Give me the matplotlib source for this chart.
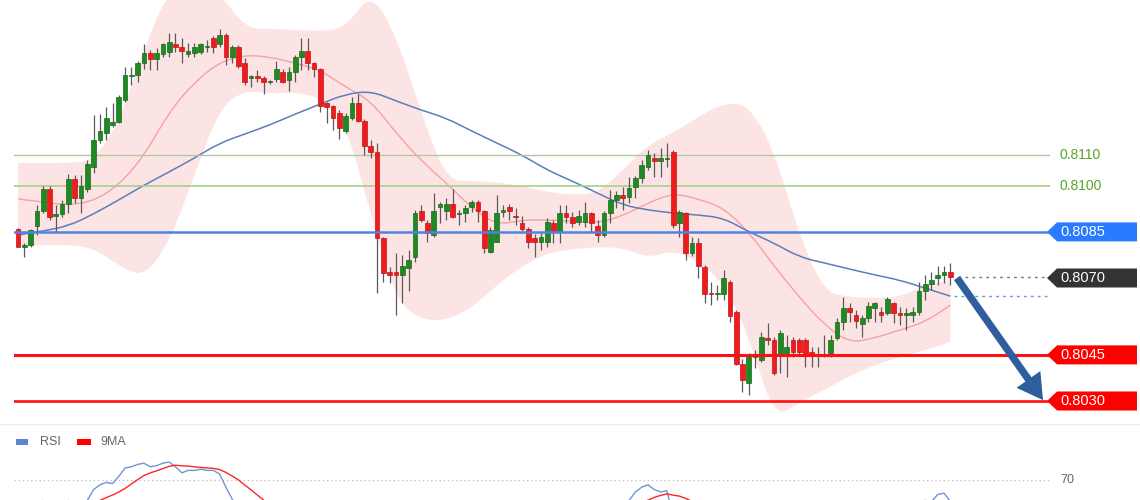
import matplotlib
matplotlib.use("Agg")
import matplotlib.pyplot as plt
import numpy as np
import pandas as pd
from matplotlib.patches import Polygon, FancyArrowPatch, Rectangle, PathPatch
from matplotlib.path import Path

plt.rcParams['font.family'] = ['Liberation Sans', 'DejaVu Sans']

# ---------------- data ----------------
opens = [0.80859, 0.80801, 0.80807, 0.80869, 0.80918, 0.80989, 0.80902, 0.80908, 0.80941, 0.81022,
         0.80960, 0.80989, 0.81061, 0.81149, 0.81172, 0.81198, 0.81207, 0.81279, 0.81357, 0.81360,
         0.81399, 0.81432, 0.81412, 0.81428, 0.81435, 0.81461, 0.81451, 0.81428, 0.81432, 0.81435,
         0.81451, 0.81480, 0.81461, 0.81490, 0.81419, 0.81451, 0.81399, 0.81350, 0.81357, 0.81350,
         0.81337, 0.81347, 0.81370, 0.81344, 0.81370, 0.81419, 0.81438, 0.81399, 0.81380, 0.81269,
         0.81259, 0.81237, 0.81178, 0.81220, 0.81269, 0.81211, 0.81129, 0.81110, 0.80830, 0.80720,
         0.80720, 0.80710, 0.80733, 0.80768, 0.80918, 0.80879, 0.80840, 0.80931, 0.80918, 0.80941,
         0.80908, 0.80911, 0.80931, 0.80947, 0.80918, 0.80785, 0.80817, 0.80915, 0.80931, 0.80902,
         0.80879, 0.80859, 0.80830, 0.80817, 0.80817, 0.80879, 0.80850, 0.80911, 0.80898, 0.80882,
         0.80882, 0.80911, 0.80869, 0.80840, 0.80911, 0.80954, 0.80970, 0.80963, 0.80996, 0.81025,
         0.81061, 0.81090, 0.81081, 0.81087, 0.81110, 0.80879, 0.80911, 0.80781, 0.80814, 0.80736,
         0.80651, 0.80648, 0.80648, 0.80687, 0.80589, 0.80420, 0.80359, 0.80443, 0.80433, 0.80505,
         0.80498, 0.80450, 0.80450, 0.80498, 0.80498, 0.80498, 0.80459, 0.80446, 0.80450, 0.80456,
         0.80505, 0.80557, 0.80602, 0.80580, 0.80550, 0.80570, 0.80602, 0.80589, 0.80586, 0.80619,
         0.80586, 0.80580, 0.80580, 0.80589, 0.80658, 0.80680, 0.80700, 0.80710, 0.80720]
highs = [0.80863, 0.80814, 0.80859, 0.80937, 0.80999, 0.80999, 0.80937, 0.80954, 0.81038, 0.81035,
         0.81035, 0.81084, 0.81230, 0.81233, 0.81256, 0.81269, 0.81295, 0.81386, 0.81386, 0.81406,
         0.81461, 0.81441, 0.81448, 0.81464, 0.81497, 0.81497, 0.81480, 0.81464, 0.81464, 0.81464,
         0.81474, 0.81487, 0.81510, 0.81497, 0.81458, 0.81458, 0.81415, 0.81360, 0.81376, 0.81357,
         0.81344, 0.81406, 0.81380, 0.81386, 0.81425, 0.81480, 0.81480, 0.81402, 0.81383, 0.81272,
         0.81263, 0.81246, 0.81237, 0.81289, 0.81298, 0.81217, 0.81149, 0.81139, 0.80833, 0.80736,
         0.80781, 0.80775, 0.80791, 0.80921, 0.80937, 0.80889, 0.80976, 0.80947, 0.80960, 0.80989,
         0.80921, 0.80937, 0.80954, 0.80954, 0.80921, 0.80866, 0.80970, 0.80937, 0.80941, 0.80928,
         0.80902, 0.80866, 0.80843, 0.80846, 0.80895, 0.80889, 0.80937, 0.80937, 0.80915, 0.80921,
         0.80947, 0.80915, 0.80889, 0.80918, 0.80986, 0.80983, 0.80996, 0.81028, 0.81032, 0.81084,
         0.81116, 0.81107, 0.81123, 0.81139, 0.81116, 0.80921, 0.80915, 0.80833, 0.80830, 0.80742,
         0.80687, 0.80677, 0.80726, 0.80693, 0.80596, 0.80437, 0.80456, 0.80466, 0.80524, 0.80554,
         0.80508, 0.80531, 0.80515, 0.80508, 0.80505, 0.80505, 0.80476, 0.80476, 0.80515, 0.80515,
         0.80570, 0.80638, 0.80619, 0.80596, 0.80580, 0.80622, 0.80622, 0.80606, 0.80638, 0.80622,
         0.80606, 0.80602, 0.80606, 0.80687, 0.80710, 0.80720, 0.80739, 0.80739, 0.80749]
lows = [0.80820, 0.80768, 0.80801, 0.80840, 0.80911, 0.80889, 0.80850, 0.80898, 0.80911, 0.80944,
        0.80911, 0.80980, 0.81041, 0.81139, 0.81149, 0.81191, 0.81204, 0.81272, 0.81328, 0.81337,
        0.81380, 0.81376, 0.81376, 0.81419, 0.81419, 0.81435, 0.81399, 0.81419, 0.81419, 0.81428,
        0.81435, 0.81432, 0.81451, 0.81393, 0.81399, 0.81383, 0.81328, 0.81321, 0.81337, 0.81298,
        0.81331, 0.81337, 0.81334, 0.81308, 0.81337, 0.81376, 0.81376, 0.81354, 0.81240, 0.81204,
        0.81181, 0.81152, 0.81172, 0.81214, 0.81207, 0.81100, 0.81090, 0.80651, 0.80687, 0.80684,
        0.80580, 0.80619, 0.80658, 0.80752, 0.80882, 0.80817, 0.80833, 0.80879, 0.80889, 0.80895,
        0.80872, 0.80882, 0.80915, 0.80882, 0.80781, 0.80781, 0.80817, 0.80898, 0.80889, 0.80872,
        0.80853, 0.80798, 0.80768, 0.80791, 0.80801, 0.80814, 0.80814, 0.80879, 0.80866, 0.80872,
        0.80866, 0.80846, 0.80817, 0.80833, 0.80879, 0.80928, 0.80921, 0.80944, 0.80960, 0.81009,
        0.81051, 0.81028, 0.81028, 0.81061, 0.80863, 0.80833, 0.80759, 0.80772, 0.80700, 0.80619,
        0.80612, 0.80628, 0.80628, 0.80557, 0.80417, 0.80329, 0.80320, 0.80407, 0.80427, 0.80482,
        0.80385, 0.80391, 0.80378, 0.80443, 0.80450, 0.80411, 0.80411, 0.80411, 0.80443, 0.80443,
        0.80498, 0.80531, 0.80557, 0.80537, 0.80508, 0.80557, 0.80557, 0.80557, 0.80580, 0.80554,
        0.80547, 0.80531, 0.80557, 0.80580, 0.80628, 0.80661, 0.80677, 0.80684, 0.80677]
closes = [0.80801, 0.80807, 0.80856, 0.80918, 0.80989, 0.80898, 0.80908, 0.80941, 0.81022, 0.80960,
          0.80999, 0.81071, 0.81149, 0.81178, 0.81220, 0.81207, 0.81289, 0.81360, 0.81360, 0.81399,
          0.81432, 0.81412, 0.81432, 0.81461, 0.81467, 0.81451, 0.81438, 0.81438, 0.81451, 0.81461,
          0.81454, 0.81451, 0.81490, 0.81419, 0.81451, 0.81389, 0.81337, 0.81357, 0.81350, 0.81337,
          0.81341, 0.81380, 0.81337, 0.81370, 0.81419, 0.81438, 0.81399, 0.81380, 0.81259, 0.81256,
          0.81220, 0.81188, 0.81227, 0.81269, 0.81211, 0.81129, 0.81110, 0.80830, 0.80716, 0.80710,
          0.80710, 0.80739, 0.80759, 0.80911, 0.80889, 0.80846, 0.80918, 0.80941, 0.80941, 0.80898,
          0.80911, 0.80928, 0.80947, 0.80918, 0.80798, 0.80856, 0.80911, 0.80921, 0.80918, 0.80898,
          0.80859, 0.80817, 0.80817, 0.80833, 0.80882, 0.80850, 0.80911, 0.80898, 0.80879, 0.80902,
          0.80911, 0.80879, 0.80840, 0.80911, 0.80954, 0.80970, 0.80960, 0.80993, 0.81025, 0.81067,
          0.81100, 0.81081, 0.81090, 0.81090, 0.80872, 0.80915, 0.80781, 0.80814, 0.80739, 0.80648,
          0.80648, 0.80651, 0.80700, 0.80576, 0.80420, 0.80368, 0.80443, 0.80450, 0.80508, 0.80498,
          0.80391, 0.80521, 0.80476, 0.80459, 0.80459, 0.80453, 0.80450, 0.80453, 0.80453, 0.80498,
          0.80557, 0.80602, 0.80589, 0.80560, 0.80570, 0.80609, 0.80619, 0.80580, 0.80632, 0.80586,
          0.80580, 0.80586, 0.80589, 0.80658, 0.80680, 0.80693, 0.80710, 0.80720, 0.80703]

# indicator lines, read every 4th candle
band_idx = list(range(0, 149, 4))
band_upper = [0.81074, 0.81074, 0.81074, 0.81081, 0.81204, 0.81448, 0.81637, 0.81637, 0.81630, 0.81513,
              0.81510, 0.81507, 0.81503, 0.81513, 0.81630, 0.81490, 0.81237, 0.81019, 0.81015, 0.81012,
              0.80999, 0.80980, 0.80970, 0.80976, 0.81051, 0.81133, 0.81172, 0.81224, 0.81269, 0.81263,
              0.81116, 0.80840, 0.80654, 0.80638, 0.80635, 0.80638, 0.80677, 0.80693]
band_lower = [0.80807, 0.80807, 0.80807, 0.80798, 0.80739, 0.80703, 0.80814, 0.81035, 0.81253, 0.81311,
              0.81298, 0.81305, 0.81285, 0.81207, 0.80905, 0.80628, 0.80563, 0.80563, 0.80602, 0.80677,
              0.80739, 0.80781, 0.80794, 0.80801, 0.80798, 0.80765, 0.80791, 0.80752, 0.80684, 0.80511,
              0.80245, 0.80294, 0.80336, 0.80381, 0.80417, 0.80443, 0.80466, 0.80492]
band_mid = [0.80957, 0.80947, 0.80937, 0.80950, 0.81002, 0.81097, 0.81240, 0.81337, 0.81402, 0.81425,
            0.81419, 0.81399, 0.81376, 0.81321, 0.81276, 0.81172, 0.81081, 0.81009, 0.80928, 0.80872,
            0.80889, 0.80889, 0.80885, 0.80879, 0.80902, 0.80944, 0.80976, 0.80957, 0.80928, 0.80850,
            0.80739, 0.80638, 0.80547, 0.80489, 0.80505, 0.80531, 0.80557, 0.80612]
ma_slow = [0.80840, 0.80853, 0.80869, 0.80908, 0.80954, 0.81002, 0.81045, 0.81090, 0.81139, 0.81168,
           0.81198, 0.81233, 0.81266, 0.81298, 0.81308, 0.81276, 0.81246, 0.81220, 0.81178, 0.81139,
           0.81100, 0.81051, 0.81015, 0.80976, 0.80937, 0.80921, 0.80911, 0.80905, 0.80895, 0.80850,
           0.80814, 0.80768, 0.80749, 0.80729, 0.80710, 0.80693, 0.80667, 0.80641]

rsi = [42, 41, 45, 49, 53, 47, 48, 50, 53, 48, 50, 53, 62, 66, 68, 67, 73, 80, 81, 83,
       84, 81, 82, 84, 85, 81, 76, 78, 78, 79, 78, 78, 75, 64, 54, 46, 40, 42, 40, 39,
       40, 44, 42, 44, 50, 52, 47, 44, 35, 34, 33, 30, 33, 38, 35, 30, 29, 20, 17, 17,
       17, 20, 22, 38, 36, 34, 41, 43, 44, 41, 42, 43, 45, 43, 36, 40, 45, 45, 44, 43,
       42, 39, 39, 40, 43, 41, 45, 44, 43, 44, 45, 43, 41, 46, 49, 50, 50, 53, 60, 64,
       66, 62, 60, 61, 40, 43, 36, 38, 34, 29, 29, 30, 35, 28, 21, 19, 28, 29, 35, 34,
       29, 36, 34, 33, 33, 32, 32, 33, 33, 37, 42, 46, 45, 43, 44, 47, 48, 46, 50, 47,
       46, 47, 47, 52, 53, 52, 58, 59, 52]

levels_green = [0.8110, 0.8100]
level_blue = 0.8085
levels_red = [0.8045, 0.8030]
arrow_start = (149.05, 0.80700)
arrow_end = (162.7, 0.80303)

# ---------------- figure ----------------
W, H = 1140, 500
fig = plt.figure(figsize=(W / 100, H / 100), dpi=100)
fig.patch.set_facecolor('white')


def fx(px):
    return px / W


def fy(py):
    return 1 - py / H


def smooth_verts(xs, ys):
    """Quadratic-Bezier path through midpoints (drawn by matplotlib's Path)."""
    pts = list(zip(xs, ys))
    verts = [pts[0], ((pts[0][0] + pts[1][0]) / 2, (pts[0][1] + pts[1][1]) / 2)]
    codes = [Path.MOVETO, Path.LINETO]
    for i in range(1, len(pts) - 1):
        mid = ((pts[i][0] + pts[i + 1][0]) / 2, (pts[i][1] + pts[i + 1][1]) / 2)
        verts += [pts[i], mid]
        codes += [Path.CURVE3, Path.CURVE3]
    verts.append(pts[-1])
    codes.append(Path.LINETO)
    return verts, codes


XMIN, XMAX = -0.635, 163.81
ax = fig.add_axes([fx(14), fy(424), fx(1050) - fx(14), fy(0) - fy(424)])
ax.set_xlim(XMIN, XMAX)
ax.set_ylim(0.802252, 0.816041)
ax.axis('off')

# bollinger band (smooth fill)
vu, cu = smooth_verts(band_idx, band_upper)
vl, cl = smooth_verts(band_idx[::-1], band_lower[::-1])
cl[0] = Path.LINETO
band_path = Path(vu + vl + [vu[0]], cu + cl + [Path.CLOSEPOLY])
ax.add_patch(PathPatch(band_path, facecolor='#fde4e4', edgecolor='none', zorder=1))

for vals, col, lw in [(band_mid, '#f4a2a2', 1.0), (ma_slow, '#5a7fba', 1.1)]:
    v, cd = smooth_verts(band_idx, vals)
    ax.add_patch(PathPatch(Path(v, cd), facecolor='none', edgecolor=col, lw=lw, zorder=2))

# level lines
ax.axhline(levels_green[0], color='#b2c9a0', lw=1.0, zorder=2.5)
ax.axhline(levels_green[1], color='#a6d08a', lw=1.2, zorder=2.5)
ax.axhline(level_blue, color='#4d84e2', lw=1.8, zorder=5)
ax.axhline(levels_red[0], color='#ff1010', lw=2.2, zorder=5)
ax.axhline(levels_red[1], color='#ff1010', lw=1.9, zorder=5)

# candles
o = np.array(opens); h = np.array(highs); l = np.array(lows); c = np.array(closes)
x = np.arange(len(o))
up = c >= o
face = np.where(up, '#1f8a24', '#ee1c1c')
edge = np.where(up, '#166a1a', '#c01414')
ax.vlines(x, l, h, color='#5a5a5a', lw=0.9, zorder=3)
bottom = np.minimum(o, c)
height = np.maximum(np.abs(c - o), 0.00004)
ax.bar(x, height, 0.74, bottom=bottom, color=face, edgecolor=edge, lw=0.5, zorder=4)

# dotted last-value lines
last = len(c) - 1
ax.hlines(c[-1], last + 1.2, 162.9, colors='#777777', lw=1, linestyles=(0, (2, 3)), zorder=3)
ax.hlines(ma_slow[-1], last + 0.6, 163.3, colors='#6d95db', lw=1, linestyles=(0, (2, 3)), zorder=3)

# arrow
arr = FancyArrowPatch(arrow_start, arrow_end,
                      arrowstyle='simple,head_length=1.3,head_width=1.5,tail_width=0.38',
                      mutation_scale=14, color='#2f5e9c', lw=0, shrinkA=0, shrinkB=0, zorder=6,
                      clip_on=False)
ax.add_patch(arr)

fig.canvas.draw()


def price_fig_y(p):
    disp = ax.transData.transform((0, p))
    return fig.transFigure.inverted().transform(disp)[1]


# green labels
for lv in levels_green:
    fig.text(fx(1060), price_fig_y(lv), f'{lv:.4f}', color='#5aa22c', fontsize=10,
             ha='left', va='center')


def tag(p, color):
    yc = price_fig_y(p)
    hh = 9.5 / H
    pts = [(fx(1047), yc), (fx(1057), yc + hh), (fx(1137), yc + hh),
           (fx(1137), yc - hh), (fx(1057), yc - hh)]
    fig.patches.append(Polygon(pts, closed=True, transform=fig.transFigure,
                               facecolor=color, edgecolor='none'))
    fig.text(fx(1060), yc, f'{p:.4f}', color='white', fontsize=10.5, ha='left', va='center')


tag(level_blue, '#2a7bff')
tag(round(c[-1], 4), '#333333')
tag(levels_red[0], '#ff0000')
tag(levels_red[1], '#ff0000')

# separator
fig.add_artist(plt.Line2D([0, 1], [fy(424), fy(424)], transform=fig.transFigure,
                          color='#ececec', lw=1))

# ---------------- RSI panel ----------------
rax = fig.add_axes([fx(14), fy(564), fx(1050) - fx(14), fy(444) - fy(564)])
rax.set_xlim(XMIN, XMAX)
rax.set_ylim(0, 100)
rax.axis('off')
rsi_s = pd.Series(rsi, dtype=float)
ma9 = rsi_s.rolling(9).mean()
rax.axhline(70, color='#c4c4c4', lw=1, ls=(0, (1, 2)))
rax.plot(x, rsi_s, color='#6f93dc', lw=1.0)
rax.plot(x, ma9, color='#ff2424', lw=1.0)
fig.text(fx(1060), fy(480), '70', color='#666666', fontsize=9, ha='left', va='center')

# legend
fig.patches.append(Rectangle((fx(16), fy(445)), 12 / W, 6 / H, transform=fig.transFigure,
                             facecolor='#5b84d6', edgecolor='none'))
fig.text(fx(40), fy(442), 'RSI', color='#666666', fontsize=9, ha='left', va='center')
fig.patches.append(Rectangle((fx(77), fy(445)), 14 / W, 6 / H, transform=fig.transFigure,
                             facecolor='#ff0000', edgecolor='none'))
fig.text(fx(100), fy(442), '9MA', color='#666666', fontsize=9, ha='left', va='center')

fig.savefig('out.png', dpi=100, facecolor='white')
